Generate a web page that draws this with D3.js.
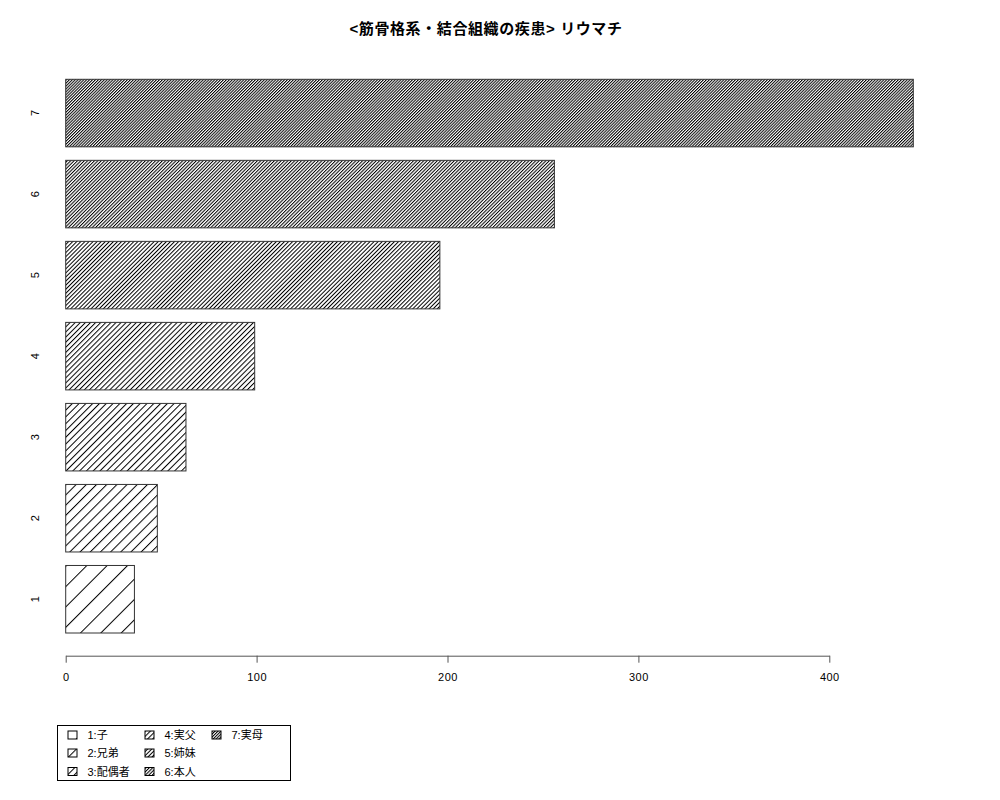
<!DOCTYPE html>
<html>
<head>
<meta charset="utf-8">
<script src="https://cdn.jsdelivr.net/npm/d3@7"></script>
<style>
body { margin: 0; background: #fff; }
text { font-family: "Liberation Sans", "Noto Sans CJK JP", sans-serif; }
</style>
</head>
<body>
<script>
// data
var categories = ["1", "2", "3", "4", "5", "6", "7"];
var values = [36, 48, 63, 99, 196, 256, 444];
var densities = [5, 10, 15, 20, 25, 30, 35]; // hatch lines per inch
var legendLabels = ["1:子", "2:兄弟", "3:配偶者", "4:実父", "5:姉妹", "6:本人", "7:実母"];
var xTicks = [0, 100, 200, 300, 400];
var title = "<筋骨格系・結合組織の疾患> リウマチ";

var width = 1000;
var height = 800;

var svg = d3.select("body").append("svg")
    .attr("width", width)
    .attr("height", height);

svg.append("rect")
    .attr("width", width)
    .attr("height", height)
    .attr("fill", "#fff");

// hatch patterns, one per density
var defs = svg.append("defs");
densities.forEach(function(d, i) {
    var s = 72 / d;
    var p = defs.append("pattern")
        .attr("id", "hatch" + i)
        .attr("patternUnits", "userSpaceOnUse")
        .attr("width", s)
        .attr("height", s)
        .attr("patternTransform", "rotate(45)");
    p.append("rect")
        .attr("width", s)
        .attr("height", s)
        .attr("fill", "#fff");
    p.append("line")
        .attr("x1", 0.5).attr("y1", 0)
        .attr("x2", 0.5).attr("y2", s)
        .attr("stroke", "#000")
        .attr("stroke-width", 1);
});

var x = d3.scaleLinear()
    .domain([0, 400])
    .range([65.7, 829.3]);

var y = d3.scaleBand()
    .domain(categories)
    .range([633, 79.3])
    .paddingInner(0.2 / 1.2)
    .paddingOuter(0);

// bars
svg.selectAll(".bar")
    .data(categories)
    .enter().append("rect")
    .attr("class", "bar")
    .attr("x", x(0))
    .attr("y", function(d) { return y(d); })
    .attr("width", function(d, i) { return x(values[i]) - x(0); })
    .attr("height", y.bandwidth())
    .attr("fill", function(d, i) { return "url(#hatch" + i + ")"; })
    .attr("stroke", "#333")
    .attr("stroke-width", 1);

// category labels, rotated
svg.selectAll(".ylab")
    .data(categories)
    .enter().append("text")
    .attr("class", "ylab")
    .attr("transform", function(d) {
        return "translate(35," + (y(d) + y.bandwidth() / 2) + ") rotate(-90)";
    })
    .attr("text-anchor", "middle")
    .attr("dominant-baseline", "central")
    .attr("font-size", 11)
    .text(function(d) { return d; });

// x axis
var xAxis = d3.axisBottom(x)
    .tickValues(xTicks)
    .tickSize(7)
    .tickSizeOuter(0)
    .tickPadding(11);

var gx = svg.append("g")
    .attr("transform", "translate(0,655.7)")
    .call(xAxis);
gx.selectAll("path, line").attr("stroke", "#555");
gx.selectAll("text")
    .attr("font-size", 11)
    .attr("font-family", "Liberation Sans, sans-serif")
    .attr("letter-spacing", 0.5)
    .attr("fill", "#000");

// title
svg.append("text")
    .attr("x", 486)
    .attr("y", 34)
    .attr("text-anchor", "middle")
    .attr("font-size", 15)
    .attr("letter-spacing", 0.6)
    .attr("font-weight", "bold")
    .text(title);

// legend
var legend = svg.append("g");
legend.append("rect")
    .attr("x", 57.5)
    .attr("y", 725.5)
    .attr("width", 233)
    .attr("height", 55)
    .attr("fill", "#fff")
    .attr("stroke", "#000");

var colX = [68, 145, 212];
var rowY = [735, 753, 771.5];

legendLabels.forEach(function(lab, i) {
    var c = Math.floor(i / 3);
    var r = i % 3;
    legend.append("rect")
        .attr("x", colX[c])
        .attr("y", rowY[r] - 4)
        .attr("width", 9)
        .attr("height", 8)
        .attr("fill", "url(#hatch" + i + ")")
        .attr("stroke", "#000");
    legend.append("text")
        .attr("x", colX[c] + 19.5)
        .attr("y", rowY[r])
        .attr("dominant-baseline", "central")
        .attr("font-size", 11)
        .text(lab);
});
</script>
</body>
</html>
